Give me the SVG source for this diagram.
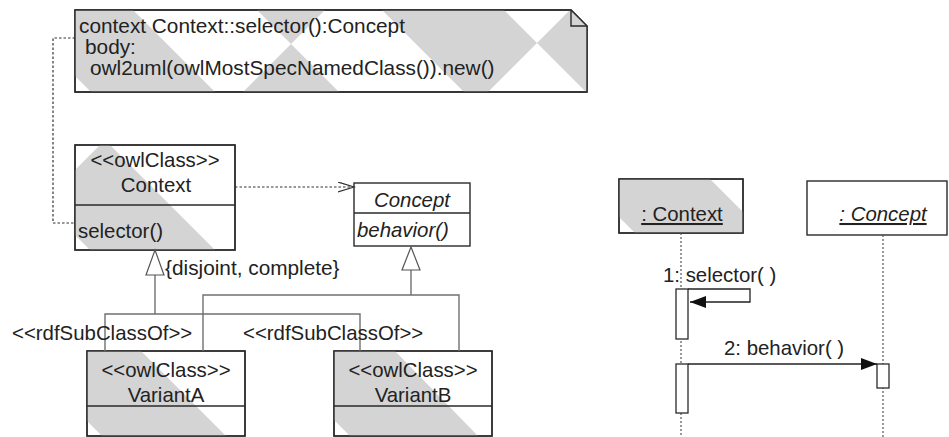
<svg xmlns="http://www.w3.org/2000/svg" width="949" height="437" viewBox="0 0 949 437">
<defs>
<style>
text{font-family:"Liberation Sans",Arial,sans-serif;font-size:20.4px;fill:#222}
.big{font-size:20.8px}
.box{fill:#fff;stroke:#2a2a2a;stroke-width:1.4}
.frame{fill:none;stroke:#2a2a2a;stroke-width:1.4}
.g{fill:#d4d4d4;stroke:none}
.gen{fill:none;stroke:#707070;stroke-width:1.4}
.tri{fill:#fff;stroke:#555;stroke-width:1.2}
.dot{fill:none;stroke:#333;stroke-width:1.2;stroke-dasharray:2.5 2}
.life{fill:none;stroke:#555;stroke-width:1.2;stroke-dasharray:2 2}
.msg{fill:none;stroke:#222;stroke-width:1.3}
.act{fill:#fff;stroke:#2a2a2a;stroke-width:1.3}
.it{font-style:italic}
.mid{text-anchor:middle}
.u{text-decoration:underline}
</style>
<marker id="filled" markerUnits="userSpaceOnUse" markerWidth="17" markerHeight="13" refX="16" refY="6" orient="auto">
<path d="M0,0 L16,6 L0,12 Z" fill="#111"/>
</marker>
<marker id="open" markerUnits="userSpaceOnUse" markerWidth="18" markerHeight="12" refX="16" refY="5.5" orient="auto">
<path d="M0,0.5 L16,5.5 L0,10.5" fill="none" stroke="#333" stroke-width="1.2"/>
</marker>
<clipPath id="cNote"><path d="M75,10H571L587,26V92H75Z"/></clipPath>
<clipPath id="cCtx"><rect x="75" y="145" width="160" height="105"/></clipPath>
<clipPath id="cVA"><rect x="87" y="351" width="158" height="85"/></clipPath>
<clipPath id="cVB"><rect x="334" y="351" width="158" height="85"/></clipPath>
<clipPath id="cSC"><rect x="619" y="179" width="124" height="54"/></clipPath>
</defs>

<g id="note">
<path class="box" d="M75,10H571L587,26V92H75Z" stroke="none"/>
<g clip-path="url(#cNote)">
<polygon class="g" points="39.5,40.5 101.5,-21.5 229,106 167,168"/>
<polygon class="g" points="229,106 291,44 413.5,166.5 351.5,228.5"/>
<polygon class="g" points="168.5,-78.5 231,-141 353.5,-18.5 291,44"/>
<polygon class="g" points="353.5,-18.5 414.5,-79.5 537,43 476,104"/>
<polygon class="g" points="537,43 640,-60 800,100 697,203"/>
</g>
<path class="frame" d="M75,10H571L587,26V92H75Z"/>
<path class="frame" d="M571,10V26H587"/>
<text class="big" x="79" y="33">context Context::selector():Concept</text>
<text class="big" x="85" y="54">body:</text>
<text class="big" x="90" y="75">owl2uml(owlMostSpecNamedClass()).new()</text>
</g>

<g id="Context">
<rect class="box" x="75" y="145" width="160" height="105"/>
<polygon class="g" clip-path="url(#cCtx)" points="75,170 100,145 110,145 215,250 90,250 75,235"/>
<rect class="frame" x="75" y="145" width="160" height="105"/>
<line class="frame" x1="75" y1="205" x2="235" y2="205"/>
<text class="mid" x="155" y="167">&lt;&lt;owlClass&gt;&gt;</text>
<text class="mid" x="156" y="192">Context</text>
<text x="78" y="238">selector()</text>
</g>

<g id="Concept">
<rect class="box" x="354" y="183" width="116" height="63"/>
<line class="frame" x1="354" y1="213" x2="470" y2="213"/>
<text class="mid it" x="412" y="207">Concept</text>
<text class="it" x="357" y="237">behavior()</text>
</g>

<g id="VariantA">
<rect class="box" x="87" y="351" width="158" height="85"/>
<polygon class="g" clip-path="url(#cVA)" points="87,351 141,351 226,436 102,436 87,421"/>
<rect class="frame" x="87" y="351" width="158" height="85"/>
<line class="frame" x1="87" y1="406" x2="245" y2="406"/>
<text class="mid" x="166" y="377">&lt;&lt;owlClass&gt;&gt;</text>
<text class="mid" x="166" y="402">VariantA</text>
</g>

<g id="VariantB">
<rect class="box" x="334" y="351" width="158" height="85"/>
<polygon class="g" clip-path="url(#cVB)" points="334,351 395,351 478,436 350,436 334,420"/>
<rect class="frame" x="334" y="351" width="158" height="85"/>
<line class="frame" x1="334" y1="406" x2="492" y2="406"/>
<text class="mid" x="413" y="377">&lt;&lt;owlClass&gt;&gt;</text>
<text class="mid" x="413" y="402">VariantB</text>
</g>

<g id="seqContext">
<rect class="box" x="619" y="179" width="124" height="54"/>
<polygon class="g" clip-path="url(#cSC)" points="619,179 710,179 743,212 743,233 635,233 619,217"/>
<rect class="frame" x="619" y="179" width="124" height="54"/>
<text class="mid u" x="682" y="221">: Context</text>
<line class="life" x1="681" y1="233" x2="681" y2="437"/>
<rect class="act" x="676" y="289" width="12" height="50"/>
<rect class="act" x="676" y="364" width="12" height="49"/>
</g>

<g id="seqConcept">
<rect class="box" x="807" y="181" width="140" height="54"/>
<text class="mid it u" x="883" y="221">: Concept</text>
<line class="life" x1="883" y1="235" x2="883" y2="437"/>
<rect class="act" x="877" y="364" width="12" height="24"/>
</g>

<g id="connectors">
<path class="dot" d="M75,38H53V223H75"/>
<path class="dot" d="M235,187H354" marker-end="url(#open)"/>
<path class="gen" d="M155,275V314M105,351V314H360V351"/>
<polygon class="tri" points="155,250 146,275 164,275"/>
<path class="gen" d="M411,270V295M203,351V295H459V351"/>
<polygon class="tri" points="411,247 402,270 420,270"/>
<path class="msg" d="M688,289H750V302H690" marker-end="url(#filled)"/>
<path class="msg" d="M688,364H877" marker-end="url(#filled)"/>
</g>

<g id="labels">
<text class="big" x="165" y="275">{disjoint, complete}</text>
<text x="12" y="340">&lt;&lt;rdfSubClassOf&gt;&gt;</text>
<text x="243" y="340">&lt;&lt;rdfSubClassOf&gt;&gt;</text>
<text x="663" y="282">1: selector( )</text>
<text x="724" y="355">2: behavior( )</text>
</g>
</svg>
